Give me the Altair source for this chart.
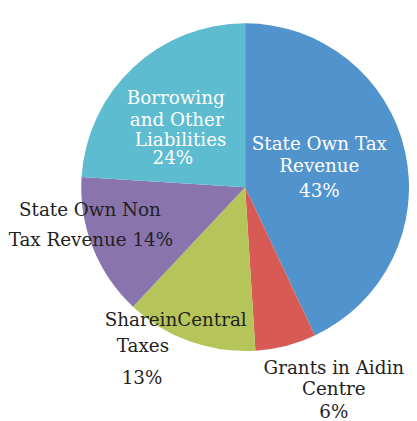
import altair as alt
import pandas as pd

categories = ["State Own Tax Revenue", "Grants in Aid in Centre", "Share in Central Taxes",
              "State Own Non Tax Revenue", "Borrowing and Other Liabilities"]
values = [43, 6, 13, 14, 24]
colors = ["#5193CC", "#D75A55", "#B5C55A", "#8A74AE", "#5DBCD0"]

label_lines = [
    ["State Own Tax", "Revenue", "43%"],
    ["Grants in Aidin", "Centre", "6%"],
    ["ShareinCentral", "Taxes", "13%"],
    ["State Own Non", "Tax Revenue 14%"],
    ["Borrowing", "and Other", "Liabilities", "24%"],
]

# layout (pixel positions of each label line, relative to chart origin)
layout = [
    [(323, 139), (323, 162), (323, 188)],
    [(338, 372), (338, 394), (338, 417)],
    [(174, 322), (140, 349), (139, 382)],
    [(85, 208), (86, 239)],
    [(174, 92), (175, 115), (179, 135), (171, 154)],
]
text_colors = ["white", "#222222", "#222222", "#222222", "white"]

df = pd.DataFrame({"category": categories, "value": values,
                   "order": list(range(len(categories)))})

rows = []
for i, lines in enumerate(label_lines):
    for j, t in enumerate(lines):
        x, y = layout[i][j]
        rows.append({"text": t, "px": x, "py": y, "tc": text_colors[i]})
lab = pd.DataFrame(rows)

W, H = 401, 405
cx, cy = 246, 178

pie = alt.Chart(df).mark_arc(radius=170, stroke=None).encode(
    theta=alt.Theta("value:Q", stack=True),
    order=alt.Order("order:Q"),
    color=alt.Color("category:N", scale=alt.Scale(domain=categories, range=colors), legend=None),
    x=alt.value(cx), y=alt.value(cy),
)

text = alt.Chart(lab).mark_text(font="DejaVu Serif", fontSize=19,
                                baseline="alphabetic", align="center").encode(
    x=alt.X("px:Q", scale=None, axis=None),
    y=alt.Y("py:Q", scale=None, axis=None),
    text="text:N",
    color=alt.Color("tc:N", scale=None, legend=None),
)

chart = (alt.layer(pie, text)
         .properties(width=W, height=H, padding=0)
         .configure_view(stroke=None))
chart.save("out.html", embed_options={"renderer": "svg", "actions": False})
